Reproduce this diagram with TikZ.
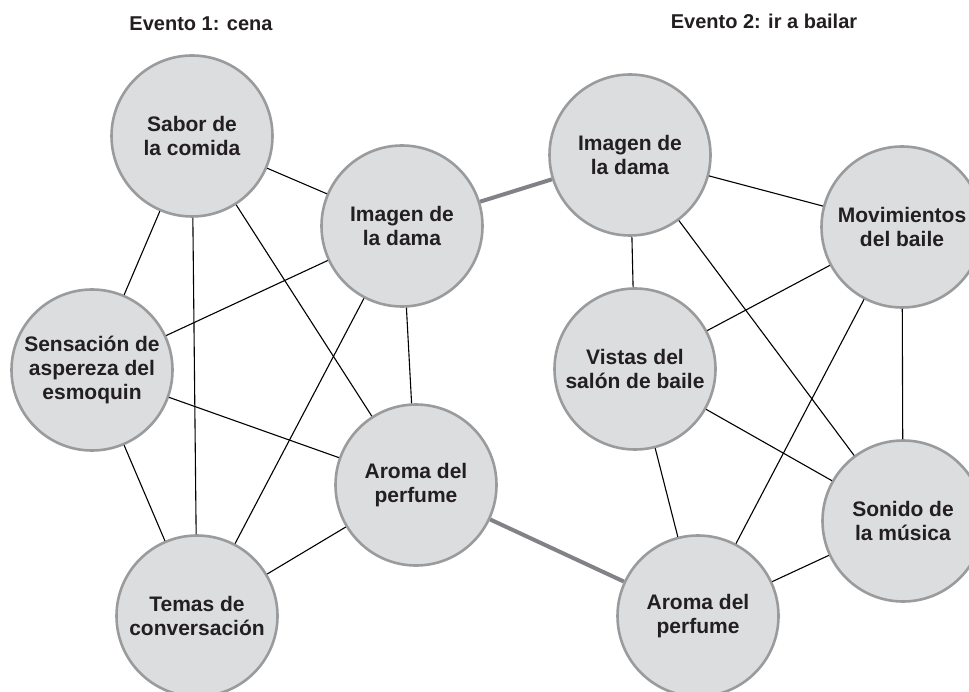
\documentclass[tikz,border=0pt]{standalone}
\usepackage{fontspec}
\setmainfont{Liberation Sans}
\definecolor{circfill}{HTML}{DCDDDF}
\definecolor{circline}{HTML}{9A9B9D}
\definecolor{txt}{HTML}{231F20}
\definecolor{bridge}{HTML}{808285}
\begin{document}
\begin{tikzpicture}[x=1pt,y=-1pt,
  concept/.style={circle,draw=circline,line width=2.6pt,fill=circfill,minimum size=161pt,inner sep=0pt,align=center,text=txt,font=\fontsize{21}{24}\selectfont\bfseries,execute at begin node={\rule{0pt}{23pt}}},
  title/.style={text=txt,font=\fontsize{20}{24}\selectfont\bfseries,inner sep=0pt},
  link/.style={draw=black,line width=1.1pt},
  bridgelink/.style={draw=bridge,line width=4pt}]
\clip (0,0) rectangle (969,692);
\fill[white] (0,0) rectangle (969,692);
\node[title] (t1) at (201,24) {Evento 1: cena};
\node[title] (t2) at (764,21) {Evento 2: ir a bailar};
% left group
\node[concept] (sabor) at (192,136) {Sabor de\\la comida};
\node[concept] (imgL) at (402,226) {Imagen de\\la dama};
\node[concept] (sens) at (92,370) {Sensación de\\aspereza del\\esmoquin};
\node[concept] (aroL) at (416,485) {Aroma del\\perfume};
\node[concept] (temas) at (197,616) {Temas de\\conversación};
% right group
\node[concept] (imgR) at (630,155) {Imagen de\\la dama};
\node[concept] (mov) at (902,227) {Movimientos\\del baile};
\node[concept] (vistas) at (635,369) {Vistas del\\salón de baile};
\node[concept] (son) at (903,521) {Sonido de\\la música};
\node[concept] (aroR) at (698,616) {Aroma del\\perfume};
% edges left
\draw[link] (sabor) -- (imgL);
\draw[link] (sabor) -- (sens);
\draw[link] (sabor) -- (temas);
\draw[link] (sabor) -- (aroL);
\draw[link] (imgL) -- (sens);
\draw[link] (imgL) -- (temas);
\draw[link] (imgL) -- (aroL);
\draw[link] (sens) -- (aroL);
\draw[link] (sens) -- (temas);
\draw[link] (aroL) -- (temas);
% edges right
\draw[link] (imgR) -- (mov);
\draw[link] (imgR) -- (vistas);
\draw[link] (imgR) -- (son);
\draw[link] (mov) -- (vistas);
\draw[link] (mov) -- (aroR);
\draw[link] (mov) -- (son);
\draw[link] (vistas) -- (son);
\draw[link] (vistas) -- (aroR);
\draw[link] (son) -- (aroR);
% bridges
\draw[bridgelink] (imgL) -- (imgR);
\draw[bridgelink] (aroL) -- (aroR);
\end{tikzpicture}
\end{document}
